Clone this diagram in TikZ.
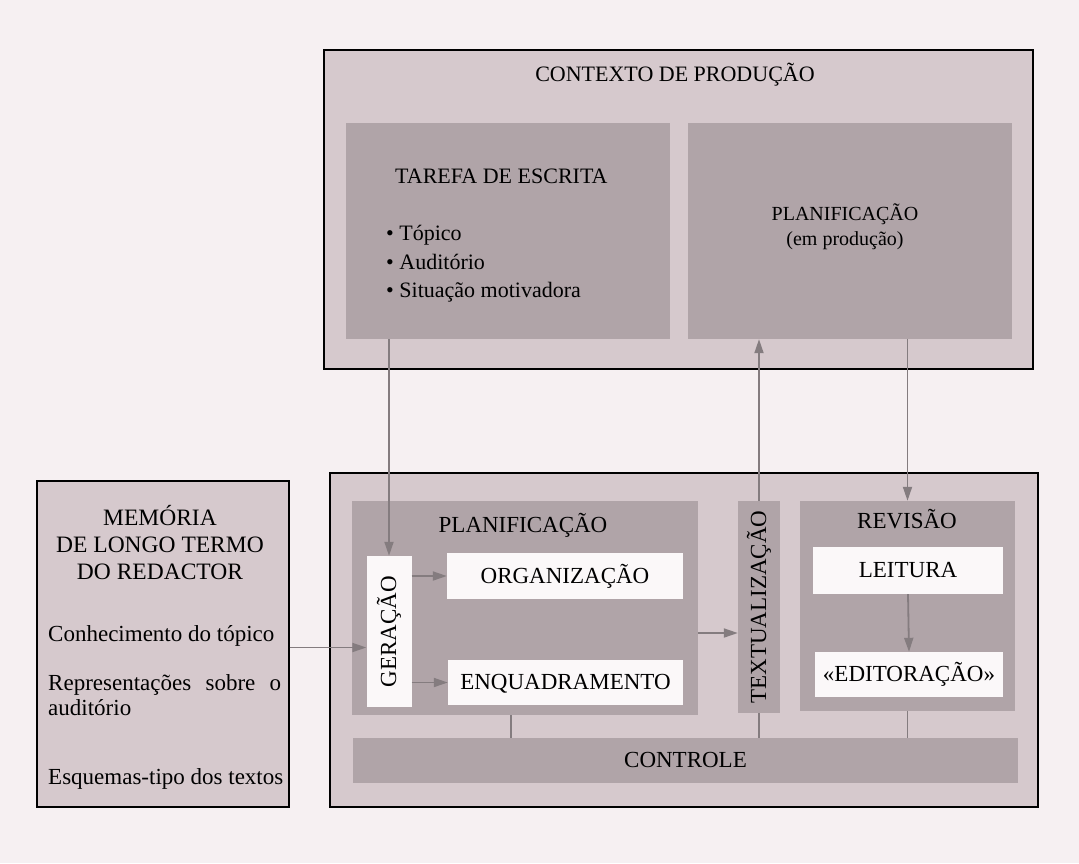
\documentclass[tikz,border=0pt]{standalone}
\usepackage{fontspec}
\setmainfont{Liberation Serif}
\usetikzlibrary{arrows, arrows.meta}

\definecolor{papel}{RGB}{246,240,242}
\definecolor{cinzaclaro}{RGB}{214,201,205}
\definecolor{cinzaescuro}{RGB}{176,164,168}
\definecolor{branco}{RGB}{251,248,249}
\definecolor{traco}{RGB}{132,124,127}

\tikzset{
  texto/.style={font=\fontsize{23}{27}\selectfont, inner sep=0pt, text height=15pt, text depth=1pt},
  menor/.style={font=\fontsize{22}{27}\selectfont},
  caixa/.style={draw=black, line width=1.2pt, fill=cinzaclaro, inner sep=0pt},
  bloco/.style={fill=cinzaescuro, texto},
  claro/.style={fill=branco, texto},
  seta/.style={draw=traco, line width=1.8pt, -{Triangle[length=14pt,width=9pt]}},
  liga/.style={draw=traco, line width=1.8pt},
}

\begin{document}
\begin{tikzpicture}[x=1pt, y=-1pt]
\useasboundingbox[fill=papel] (0,0) rectangle (1079,863);

% contexto de producao
\node[caixa, minimum width=709pt, minimum height=319pt] (contexto) at (678.5,209.5) {};
\node[bloco, minimum width=324pt, minimum height=216pt] (tarefa) at (508,231) {};
\node[bloco, minimum width=324pt, minimum height=216pt] (planprod) at (850,231) {};
\node[texto, menor] (titcontexto) at (675,74) {CONTEXTO DE PRODUÇÃO};
\node[texto, menor, anchor=west] (tittarefa) at (395,176) {TAREFA DE ESCRITA};
\node[texto, menor, anchor=west] (topico) at (386,233) {\textbullet\ Tópico};
\node[texto, menor, anchor=west] (auditorio) at (386,262) {\textbullet\ Auditório};
\node[texto, menor, anchor=west] (situacao) at (386,290) {\textbullet\ Situação motivadora};
\node[texto, font=\fontsize{20}{24}\selectfont] (titplanprod) at (845,213) {PLANIFICAÇÃO};
\node[texto, font=\fontsize{20}{24}\selectfont] (emproducao) at (845,238) {(em produção)};

% memoria
\node[caixa, minimum width=252pt, minimum height=326pt] (memoria) at (163,644) {};
\node[texto, font=\fontsize{23.5}{27}\selectfont] (memoria1) at (160,518) {MEMÓRIA};
\node[texto, font=\fontsize{23.5}{27}\selectfont] (memoria2) at (160,545) {DE LONGO TERMO};
\node[texto, font=\fontsize{23.5}{27}\selectfont] (memoria3) at (160,572) {DO REDACTOR};
\node[texto, anchor=west] (conhec) at (48,634) {Conhecimento do tópico};
\node[texto, anchor=west] (repres) at (48,683) {\makebox[233pt][s]{Representações sobre o}};
\node[texto, anchor=west] (audit) at (48,708) {auditório};
\node[texto, anchor=west] (esquemas) at (48,777) {Esquemas-tipo dos textos};

% processo de escrita
\node[caixa, minimum width=708pt, minimum height=334pt] (escrita) at (684,640) {};
\node[bloco, minimum width=346pt, minimum height=214pt] (planif) at (525,608) {};
\node[texto] (titplanif) at (523,525) {PLANIFICAÇÃO};
\node[claro, minimum width=45pt, minimum height=151pt] (geracao) at (389,631.5) {};
\node[texto, rotate=90] (titgeracao) at (geracao) {GERAÇÃO};
\node[claro, minimum width=236pt, minimum height=46pt] (organiz) at (565,576) {ORGANIZAÇÃO};
\node[claro, minimum width=235pt, minimum height=45pt] (enquadr) at (565.5,682.5) {ENQUADRAMENTO};
\node[bloco, minimum width=42pt, minimum height=212pt] (textual) at (759,607) {};
\node[texto, rotate=90] (tittextual) at (textual) {TEXTUALIZAÇÃO};
\node[bloco, minimum width=215pt, minimum height=210pt] (revisao) at (907.5,606) {};
\node[texto] (titrevisao) at (907,521) {REVISÃO};
\node[claro, minimum width=190pt, minimum height=47pt] (leitura) at (908,570.5) {LEITURA};
\node[claro, minimum width=188pt, minimum height=45pt] (editor) at (909,674.5) {«EDITORAÇÃO»};
\node[bloco, minimum width=665pt, minimum height=45pt] (controle) at (685.5,760.5) {CONTROLE};

% ligacoes
\draw[seta] (tarefa.south -| geracao.north) -- (geracao.north);
\draw[seta] (textual.north) -- (textual.north |- planprod.south);
\draw[seta] (revisao.north |- planprod.south) -- (revisao.north);
\draw[seta] ([yshift=-16pt]geracao.west -| memoria.east) -- ([yshift=-16pt]geracao.west);
\draw[seta] (geracao.east |- organiz.west) -- (organiz.west);
\draw[seta] (geracao.east |- enquadr.west) -- (enquadr.west);
\draw[seta] ([yshift=-25pt]planif.east) -- ([yshift=-25pt]planif.east -| textual.west);
\draw[seta] (leitura.south) -- (editor.north);
\draw[liga] ([xshift=-14pt]planif.south) -- ([xshift=-14pt]planif.south |- controle.north);
\draw[liga] (textual.south) -- (textual.south |- controle.north);
\draw[liga] (revisao.south) -- (revisao.south |- controle.north);
\end{tikzpicture}
\end{document}
